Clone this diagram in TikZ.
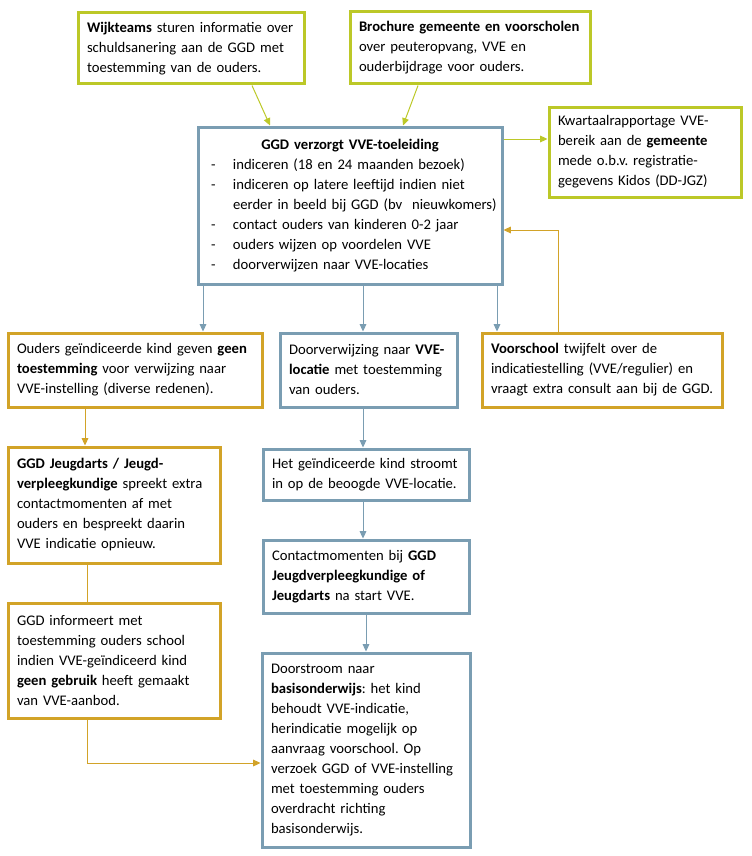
\documentclass[tikz,border=0pt]{standalone}
\usepackage{fontspec}
\setmainfont{Carlito}
\usetikzlibrary{arrows.meta}
\definecolor{limec}{RGB}{188,200,40}
\definecolor{bgrey}{RGB}{122,157,178}
\definecolor{goldc}{RGB}{210,163,40}
\frenchspacing
\newcommand\rl[1]{\hbox{#1}}
\newcommand\itm[1]{\hbox{\hspace*{3pt}\makebox[16.5pt][l]{-}#1}}
\newcommand\cnt[1]{\hbox{\hspace*{19.5pt}#1}}
\tikzset{
  box/.style={draw, line width=2.25pt, rectangle, fill=white, inner xsep=6.75pt, inner ysep=0pt,
    align=left, font=\fontsize{11pt}{15pt}\selectfont\frenchspacing, anchor=center},
  gbox/.style={box, draw=limec},
  bbox/.style={box, draw=bgrey},
  ybox/.style={box, draw=goldc},
  arr/.style={line width=0.75pt, -{Triangle[length=5.5pt,width=5pt]}},
  ln/.style={line width=0.75pt},
}
\begin{document}
\begin{tikzpicture}[x=0.75pt,y=-0.75pt]
\useasboundingbox (0,0) rectangle (751,856);
% top boxes
\node[gbox, text width=156pt, minimum height=53.25pt] (A) at (191,48.5)
  {\rl{\textbf{Wijkteams} sturen informatie over}
   \rl{schuldsanering aan de GGD met}
   \rl{toestemming van de ouders.}};
\node[gbox, text width=166.5pt, minimum height=54pt] (B) at (470,48)
  {\rl{\textbf{Brochure gemeente en voorscholen}}
   \rl{over peuteropvang, VVE en}
   \rl{ouderbijdrage voor ouders.}};
% GGD main
\node[bbox, text width=214.5pt, minimum height=117.75pt] (G) at (350,205.5)
  {\hbox to 214.5pt{\hfil\textbf{GGD verzorgt VVE-toeleiding}\hfil}
   \itm{indiceren (18 en 24 maanden bezoek)}
   \itm{indiceren op latere leeftijd indien niet}
   \cnt{eerder in beeld bij GGD (bv\ \ nieuwkomers)}
   \itm{contact ouders van kinderen 0-2 jaar}
   \itm{ouders wijzen op voordelen VVE}
   \itm{doorverwijzen naar VVE-locaties}};
\node[gbox, text width=130.5pt, minimum height=67.5pt] (K) at (645,152)
  {\rl{Kwartaalrapportage VVE-}
   \rl{bereik aan de \textbf{gemeente}}
   \rl{mede o.b.v. registratie-}
   \rl{gegevens Kidos (DD-JGZ)}};
% second row
\node[ybox, text width=177pt, minimum height=55.5pt] (O) at (135,370)
  {\rl{Ouders geïndiceerde kind geven \textbf{geen}}
   \rl{\textbf{toestemming} voor verwijzing naar}
   \rl{VVE-instelling (diverse redenen).}};
\node[bbox, text width=119.25pt, minimum height=55.5pt] (D) at (368.5,370)
  {\rl{Doorverwijzing naar \textbf{VVE-}}
   \rl{\textbf{locatie} met toestemming}
   \rl{van ouders.}};
\node[ybox, text width=166.5pt, minimum height=55.5pt] (V) at (602,370)
  {\rl{\textbf{Voorschool} twijfelt over de}
   \rl{indicatiestelling (VVE/regulier) en}
   \rl{vraagt extra consult aan bij de GGD.}};
% left column
\node[ybox, text width=145.5pt, minimum height=87pt] (J) at (114,505)
  {\rl{\textbf{GGD Jeugdarts / Jeugd-}}
   \rl{\textbf{verpleegkundige} spreekt extra}
   \rl{contactmomenten af met}
   \rl{ouders en bespreekt daarin}
   \rl{VVE indicatie opnieuw.}};
\node[ybox, text width=145.5pt, minimum height=86.25pt] (I) at (114,660.5)
  {\rl{GGD informeert met}
   \rl{toestemming ouders school}
   \rl{indien VVE-geïndiceerd kind}
   \rl{\textbf{geen gebruik} heeft gemaakt}
   \rl{van VVE-aanbod.}};
% middle column
\node[bbox, text width=141pt, minimum height=38.25pt] (H) at (366,474.5)
  {\rl{Het geïndiceerde kind stroomt}
   \rl{in op de beoogde VVE-locatie.}};
\node[bbox, text width=141pt, minimum height=54.75pt] (C) at (366,576.5)
  {\rl{Contactmomenten bij \textbf{GGD}}
   \rl{\textbf{Jeugdverpleegkundige of}}
   \rl{\textbf{Jeugdarts} na start VVE.}};
\node[bbox, text width=142.5pt, minimum height=145.5pt] (S) at (366,750)
  {\rl{Doorstroom naar}
   \rl{\textbf{basisonderwijs}: het kind}
   \rl{behoudt VVE-indicatie,}
   \rl{herindicatie mogelijk op}
   \rl{aanvraag voorschool. Op}
   \rl{verzoek GGD of VVE-instelling}
   \rl{met toestemming ouders}
   \rl{overdracht richting}
   \rl{basisonderwijs.}};
% connectors
\draw[arr, limec] (A.south -| 252,0) -- (G.north -| 270,0);
\draw[arr, limec] (B.south -| 418,0) -- (G.north -| 403,0);
\draw[arr, limec] (G.east |- 0,139) -- (K.west |- 0,139);
\draw[arr, goldc] (V.north -| 558,0) |- (G.east |- 0,230);
\draw[arr, bgrey] (G.south -| 203,0) -- (O.north -| 203,0);
\draw[arr, bgrey] (G.south -| 363,0) -- (D.north -| 363,0);
\draw[arr, bgrey] (G.south -| 497,0) -- (V.north -| 497,0);
\draw[arr, goldc] (O.south -| 85,0) -- (J.north -| 85,0);
\draw[ln, goldc] (J.south -| 87,0) -- (I.north -| 87,0);
\draw[arr, goldc] (I.south -| 87,0) |- (S.west |- 0,763);
\draw[arr, bgrey] (D.south -| 363,0) -- (H.north -| 363,0);
\draw[arr, bgrey] (H.south -| 363,0) -- (C.north -| 363,0);
\draw[arr, bgrey] (C.south -| 366,0) -- (S.north -| 366,0);
\end{tikzpicture}
\end{document}
